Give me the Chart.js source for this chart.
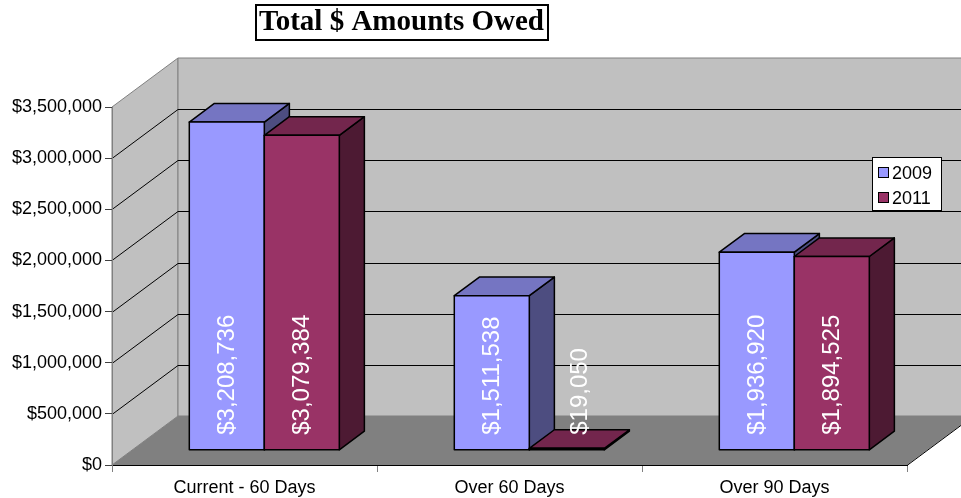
<!DOCTYPE html>
<html>
<head>
<meta charset="utf-8">
<script src="https://cdn.jsdelivr.net/npm/chart.js@4.4.0/dist/chart.umd.min.js"></script>
<style>
  html, body { margin: 0; padding: 0; background: #fff; }
  #wrap { width: 961px; height: 498px; }
</style>
</head>
<body>
<div id="wrap"><canvas id="owedChart" width="961" height="498"></canvas></div>
<script>
// Chart data
const categories = ['Current - 60 Days', 'Over 60 Days', 'Over 90 Days'];
const series2009 = [3208736, 1511538, 1936920];
const series2011 = [3079384, 19050, 1894525];
const seriesNames = ['2009', '2011'];
const yTicks = [0, 500000, 1000000, 1500000, 2000000, 2500000, 3000000, 3500000];
const chartTitle = 'Total $ Amounts Owed';

// 3D look
const DEPTH_X = 66, DEPTH_Y = 49;
const BAR_FRONT = 0.3, BAR_BACK = 0.68;
const faceColors = [
    { front: '#9999FF', top: '#7575C2', side: '#4D4D80' },
    { front: '#993366', top: '#73264D', side: '#4D1A33' }
];

function money(v) {
    return '$' + Number(v).toLocaleString('en-US');
}

function poly(ctx, pts, fill, stroke, lw) {
    ctx.beginPath();
    ctx.moveTo(pts[0][0], pts[0][1]);
    for (let i = 1; i < pts.length; i++) ctx.lineTo(pts[i][0], pts[i][1]);
    ctx.closePath();
    if (fill) { ctx.fillStyle = fill; ctx.fill(); }
    if (stroke) { ctx.strokeStyle = stroke; ctx.lineWidth = lw || 1; ctx.stroke(); }
}

// Walls, floor, 3D bars, labels, title and legend
const walls3d = {
    id: 'walls3d',
    beforeDraw(chart) {
        const ctx = chart.ctx;
        const a = chart.chartArea;
        const y = chart.scales.y;
        ctx.save();
        // side wall
        poly(ctx, [[a.left, a.top], [a.left + DEPTH_X, a.top - DEPTH_Y],
                   [a.left + DEPTH_X, a.bottom - DEPTH_Y], [a.left, a.bottom]], '#C0C0C0', '#808080', 1);
        // back wall
        poly(ctx, [[a.left + DEPTH_X, a.top - DEPTH_Y], [a.right + DEPTH_X, a.top - DEPTH_Y],
                   [a.right + DEPTH_X, a.bottom - DEPTH_Y], [a.left + DEPTH_X, a.bottom - DEPTH_Y]], '#C0C0C0', '#808080', 1);
        // floor
        poly(ctx, [[a.left, a.bottom], [a.left + DEPTH_X, a.bottom - DEPTH_Y],
                   [a.right + DEPTH_X, a.bottom - DEPTH_Y], [a.right, a.bottom]], '#808080', null);
        ctx.beginPath();
        ctx.moveTo(a.right, a.bottom + 0.5);
        ctx.lineTo(a.right + DEPTH_X, a.bottom - DEPTH_Y + 0.5);
        ctx.strokeStyle = '#000';
        ctx.lineWidth = 1;
        ctx.stroke();
        // gridlines on the walls
        yTicks.forEach(v => {
            if (v === 0 || v === yTicks[yTicks.length - 1]) return;
            const py = Math.round(y.getPixelForValue(v)) + 0.5;
            ctx.beginPath();
            ctx.moveTo(a.left, py);
            ctx.lineTo(a.left + DEPTH_X, py - DEPTH_Y);
            ctx.lineTo(a.right + DEPTH_X, py - DEPTH_Y);
            ctx.strokeStyle = '#000';
            ctx.lineWidth = 1;
            ctx.stroke();
        });
        ctx.restore();
    },
    beforeDatasetsDraw(chart) {
        const ctx = chart.ctx;
        const fx = DEPTH_X * BAR_FRONT, fy = DEPTH_Y * BAR_FRONT;
        const dx = DEPTH_X * (BAR_BACK - BAR_FRONT), dy = DEPTH_Y * (BAR_BACK - BAR_FRONT);
        ctx.save();
        ctx.lineJoin = 'round';
        categories.forEach((c, i) => {
            chart.data.datasets.forEach((ds, d) => {
                const bar = chart.getDatasetMeta(d).data[i];
                const x0 = bar.x - bar.width / 2 + fx;
                const x1 = bar.x + bar.width / 2 + fx;
                const top = bar.y - fy;
                const base = bar.base - fy;
                const col = faceColors[d];
                poly(ctx, [[x1, top], [x1 + dx, top - dy], [x1 + dx, base - dy], [x1, base]], col.side, '#000', 1.5);
                poly(ctx, [[x0, top], [x1, top], [x1 + dx, top - dy], [x0 + dx, top - dy]], col.top, '#000', 1.5);
                poly(ctx, [[x0, top], [x1, top], [x1, base], [x0, base]], col.front, '#000', 1.5);
            });
        });
        ctx.restore();
        return false;
    },
    afterDraw(chart) {
        const ctx = chart.ctx;
        const fx = DEPTH_X * BAR_FRONT, fy = DEPTH_Y * BAR_FRONT;
        const dx = DEPTH_X * (BAR_BACK - BAR_FRONT);
        ctx.save();
        // value labels, rotated, inside the bars
        ctx.font = '24px "Liberation Sans", Arial, sans-serif';
        ctx.fillStyle = '#fff';
        ctx.textAlign = 'left';
        ctx.textBaseline = 'middle';
        chart.data.datasets.forEach((ds, d) => {
            chart.getDatasetMeta(d).data.forEach((bar, i) => {
                const txt = money(ds.data[i]);
                const w = ctx.measureText(txt).width;
                let cx = bar.x + fx;
                if (bar.base - bar.y < w) cx += dx / 2;
                ctx.save();
                ctx.translate(cx, bar.base - fy - 15);
                ctx.rotate(-Math.PI / 2);
                ctx.fillText(txt, 0, 1);
                ctx.restore();
            });
        });

        // title with a box round it
        ctx.font = 'bold 29px "Liberation Serif", "Times New Roman", serif';
        ctx.fillStyle = '#000';
        ctx.textAlign = 'center';
        ctx.fillText(chartTitle, 401.5, 23);
        ctx.strokeStyle = '#000';
        ctx.lineWidth = 2;
        ctx.strokeRect(256, 5, 292, 35);

        // legend
        ctx.fillStyle = '#fff';
        ctx.fillRect(872, 157, 70, 54);
        ctx.lineWidth = 1;
        ctx.strokeRect(872.5, 157.5, 69, 53);
        ctx.font = '18px "Liberation Sans", Arial, sans-serif';
        ctx.textAlign = 'left';
        seriesNames.forEach((name, k) => {
            const ly = 173 + k * 25;
            ctx.fillStyle = faceColors[k].front;
            ctx.fillRect(878, ly - 6, 11, 11);
            ctx.strokeStyle = '#000';
            ctx.strokeRect(878.5, ly - 5.5, 10, 10);
            ctx.fillStyle = '#000';
            ctx.fillText(name, 892, ly + 1);
        });
        ctx.restore();
    }
};

function initializeChart() {
    const ctx = document.getElementById('owedChart').getContext('2d');
    new Chart(ctx, {
        type: 'bar',
        data: {
            labels: categories,
            datasets: [
                { label: seriesNames[0], data: series2009, backgroundColor: faceColors[0].front },
                { label: seriesNames[1], data: series2011, backgroundColor: faceColors[1].front }
            ]
        },
        options: {
            responsive: false,
            animation: false,
            layout: { padding: { top: 107, right: 54, left: 0, bottom: 0 } },
            datasets: { bar: { categoryPercentage: 150 / 265, barPercentage: 1 } },
            plugins: {
                legend: { display: false },
                title: { display: false },
                tooltip: { enabled: false }
            },
            scales: {
                x: {
                    grid: { offset: true, drawOnChartArea: false, drawTicks: true, tickLength: 7, color: '#808080' },
                    border: { color: '#000', width: 1 },
                    ticks: { color: '#000', padding: 5, font: { family: '"Liberation Sans", Arial, sans-serif', size: 18 } },
                    afterFit(scale) { scale.height = 33; }
                },
                y: {
                    min: 0,
                    max: 3500000,
                    afterBuildTicks(scale) { scale.ticks = yTicks.map(v => ({ value: v })); },
                    grid: { drawOnChartArea: false, drawTicks: true, tickLength: 7, color: '#404040' },
                    border: { color: '#808080', width: 1 },
                    ticks: {
                        color: '#000', padding: 3,
                        font: { family: '"Liberation Sans", Arial, sans-serif', size: 18 },
                        callback: v => money(v)
                    },
                    afterFit(scale) { scale.width = 112; }
                }
            }
        },
        plugins: [walls3d]
    });
}

document.addEventListener('DOMContentLoaded', initializeChart);
</script>
</body>
</html>
